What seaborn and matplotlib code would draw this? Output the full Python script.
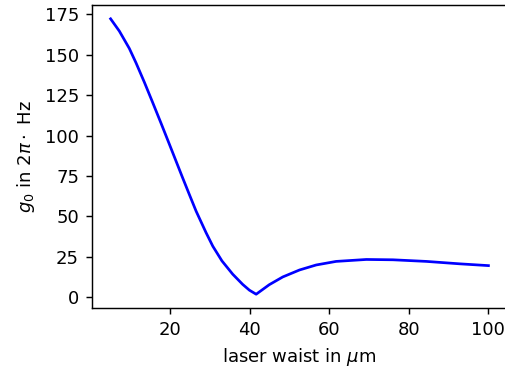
import matplotlib
matplotlib.use("Agg")
import matplotlib.pyplot as plt
import seaborn as sns
import pandas as pd

waist_um = [5, 7.2, 9.7, 11.4, 13.5, 15.5, 17.7, 19.7, 21.4, 23.1, 24.8, 26.5,
            29, 30.7, 33, 35.7, 38.2, 39.9, 41.6, 44.9, 48.3, 52.5, 56.7,
            61.7, 69.3, 76, 84.4, 92.8, 100]
g0_hz = [172.3, 164.7, 154.0, 145.0, 133.0, 121.0, 107.6, 95.2, 84.6, 74.0,
         63.6, 53.3, 40.0, 31.6, 22.5, 14.3, 8.0, 4.4, 1.9, 7.8, 12.6, 16.9,
         20.0, 22.2, 23.4, 23.2, 22.2, 20.7, 19.6]
x_ticks = [20, 40, 60, 80, 100]
y_ticks = [0, 25, 50, 75, 100, 125, 150, 175]

df = pd.DataFrame({"waist": waist_um, "g0": g0_hz})

dpi = 130
fig = plt.figure(figsize=(505 / dpi, 374 / dpi), dpi=dpi)
ax = fig.add_axes([0.1816, 0.1765, 0.823, 0.810])
sns.lineplot(data=df, x="waist", y="g0", color="b", linewidth=1.5, ax=ax)
ax.set_xticks(x_ticks)
ax.set_yticks(y_ticks)
ax.margins(x=0.05, y=0.05)
ax.set_xlabel(r"laser waist in $\mu$m")
ax.set_ylabel(r"$g_0$ in $2\pi\cdot$ Hz")
fig.savefig("out.png", dpi=dpi)
